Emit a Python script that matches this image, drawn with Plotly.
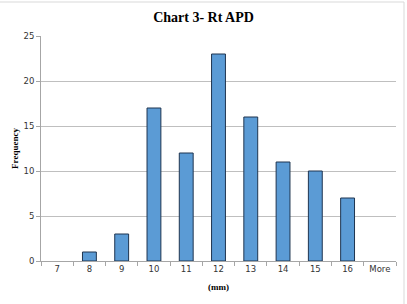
import plotly.graph_objects as go

categories = ["7", "8", "9", "10", "11", "12", "13", "14", "15", "16", "More"]
frequency = [0, 1, 3, 17, 12, 23, 16, 11, 10, 7, 0]
y_ticks = [0, 5, 10, 15, 20, 25]

fig = go.Figure()
fig.add_trace(go.Bar(
    x=categories, y=frequency,
    marker=dict(color="#5B9BD5",
                line=dict(color="#1F3550", width=[1 if v > 0 else 0 for v in frequency])),
    width=0.43,
))

W, H = 407, 304
ml, mr, mt, mb = 41, 11, 36, 43
pw, ph = W - ml - mr, H - mt - mb

fig.update_layout(
    width=W, height=H,
    margin=dict(l=ml, r=mr, t=mt, b=mb),
    paper_bgcolor="white", plot_bgcolor="white",
    showlegend=False,
    title=dict(text="<b>Chart 3- Rt APD</b>", x=0.5, xanchor="center", y=1 - 17 / H, yanchor="middle",
               font=dict(family="Liberation Serif", size=14, color="black")),
    xaxis=dict(
        type="category", showgrid=False, showline=True, linecolor="#A6A6A6", linewidth=1,
        ticks="outside", ticklen=4, tickcolor="#A6A6A6", tickson="boundaries",
        tickfont=dict(family="DejaVu Sans", size=8.5, color="#333333"),
        title=dict(text="<b>(mm)</b>", font=dict(family="Liberation Serif", size=9, color="black"), standoff=10),
    ),
    yaxis=dict(
        range=[0, 25], tickvals=y_ticks, showgrid=True, gridcolor="#BFBFBF", gridwidth=1,
        showline=True, linecolor="#A6A6A6", linewidth=1, ticks="outside", ticklen=4, tickcolor="#A6A6A6",
        tickfont=dict(family="DejaVu Sans", size=8.5, color="#333333"), zeroline=False,
        title=dict(text="<b>Frequency</b>", font=dict(family="Liberation Serif", size=9, color="black"), standoff=3),
    ),
)

# chart border (top and right edges visible)
fig.add_shape(type="line", xref="paper", yref="paper",
              x0=(0 - ml) / pw, x1=(404 - ml) / pw, y0=(H - 2 - mb) / ph, y1=(H - 2 - mb) / ph,
              line=dict(color="#D9D9D9", width=1))
fig.add_shape(type="line", xref="paper", yref="paper",
              x0=(404 - ml) / pw, x1=(404 - ml) / pw, y0=(0 - mb) / ph, y1=(H - 2 - mb) / ph,
              line=dict(color="#D9D9D9", width=1))

fig.write_html("out.html")
